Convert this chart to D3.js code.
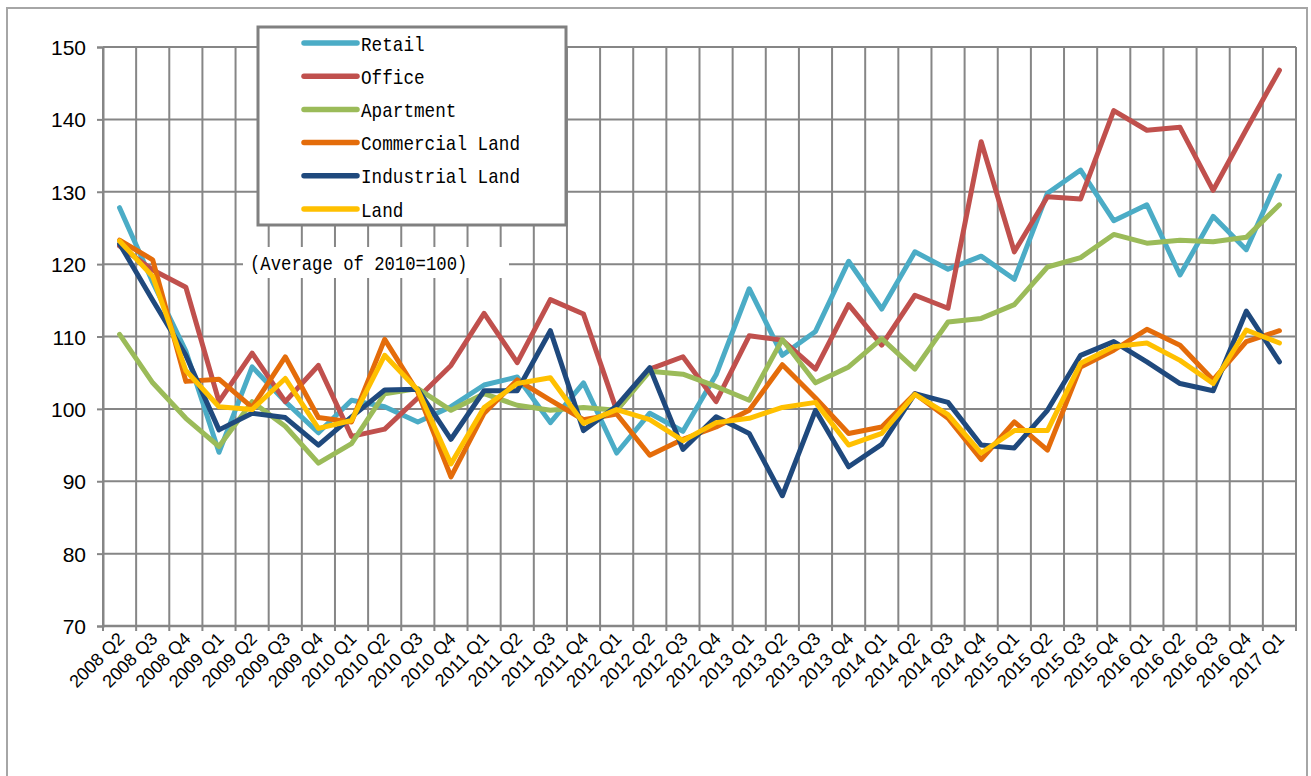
<!DOCTYPE html>
<html><head><meta charset="utf-8">
<script src="https://cdnjs.cloudflare.com/ajax/libs/d3/7.8.5/d3.min.js"></script>
<style>html,body{margin:0;padding:0;background:#fff;}svg{display:block;}</style>
</head><body>
<script>
const categories = ["2008 Q2","2008 Q3","2008 Q4","2009 Q1","2009 Q2","2009 Q3","2009 Q4","2010 Q1","2010 Q2","2010 Q3","2010 Q4","2011 Q1","2011 Q2","2011 Q3","2011 Q4","2012 Q1","2012 Q2","2012 Q3","2012 Q4","2013 Q1","2013 Q2","2013 Q3","2013 Q4","2014 Q1","2014 Q2","2014 Q3","2014 Q4","2015 Q1","2015 Q2","2015 Q3","2015 Q4","2016 Q1","2016 Q2","2016 Q3","2016 Q4","2017 Q1"];
const retail = [127.8,117.5,108.0,94.0,105.8,101.0,96.7,101.2,100.3,98.2,100.3,103.3,104.4,98.1,103.6,93.9,99.4,96.9,104.7,116.6,107.4,110.7,120.4,113.8,121.7,119.3,121.1,117.9,129.8,133.0,126.0,128.2,118.5,126.6,122.0,132.2];
const office = [122.5,119.2,116.8,101.0,107.7,101.0,106.0,96.2,97.2,101.5,106.0,113.2,106.4,115.1,113.1,99.8,105.5,107.2,101.0,110.1,109.5,105.5,114.4,108.8,115.7,113.9,136.9,121.7,129.3,129.0,141.2,138.5,138.9,130.2,138.6,146.8];
const apartment = [110.3,103.6,98.7,94.8,101.0,97.6,92.5,95.2,102.1,102.8,99.8,102.1,100.5,99.8,100.2,99.8,105.2,104.8,103.1,101.2,109.6,103.6,105.8,109.7,105.5,112.0,112.5,114.4,119.6,120.9,124.1,122.9,123.3,123.1,123.7,128.2];
const commercialLand = [123.3,120.6,103.8,104.1,100.2,107.2,98.8,98.2,109.6,102.3,90.6,99.4,104.0,101.2,98.5,99.3,93.6,95.8,97.5,99.8,106.1,101.5,96.6,97.5,102.1,98.7,93.0,98.2,94.3,105.8,108.1,111.0,108.8,104.0,109.3,110.8];
const industrialLand = [122.8,115.0,107.4,97.1,99.4,98.8,95.0,98.9,102.6,102.7,95.8,102.5,102.5,110.8,97.0,100.4,105.7,94.4,98.9,96.6,88.0,99.8,92.0,95.1,102.1,100.9,95.0,94.6,99.8,107.4,109.3,106.5,103.5,102.5,113.5,106.5];
const land = [123.2,118.3,105.3,100.3,99.9,104.2,97.3,98.4,107.4,102.6,92.4,100.2,103.5,104.3,98.0,99.9,98.5,95.6,98.1,98.7,100.2,100.9,95.0,96.6,102.0,99.2,93.9,97.0,97.0,106.3,108.6,109.1,106.7,103.5,110.9,109.1];
const seriesNames = ["Retail","Office","Apartment","Commercial Land","Industrial Land","Land"];
const seriesColors = ["#4BACC6","#C0504D","#9BBB59","#E46C0A","#1F497D","#FFC000"];
const yTicks = [70,80,90,100,110,120,130,140,150];
const note = "(Average of 2010=100)";

const seriesData = [retail, office, apartment, commercialLand, industrialLand, land];

(function(){
const W = 1311, H = 776;
const svg = d3.select("body").append("svg").attr("width", W).attr("height", H);

svg.append("rect").attr("x",7).attr("y",8).attr("width",1300).attr("height",820)
  .attr("fill","#fff").attr("stroke","#A6A6A6").attr("stroke-width",2);

const pL = 103, pR = 1296, pT = 47, pB = 626;
const x = d3.scaleBand().domain(categories).range([pL, pR]).padding(0);
const bw = x.bandwidth();
const xc = c => x(c) + bw/2;
const y = d3.scaleLinear().domain([70,150]).range([pB, pT]);

const gridColor = "#868686";
const g = svg.append("g");

g.selectAll(".hg").data(yTicks).join("line")
  .attr("x1", pL).attr("x2", pR)
  .attr("y1", d=>y(d)).attr("y2", d=>y(d))
  .attr("stroke", gridColor).attr("stroke-width", 2);
const bounds = categories.map(c => x(c)).concat([pR]);
g.selectAll(".vg").data(bounds).join("line")
  .attr("x1", d=>d).attr("x2", d=>d)
  .attr("y1", pT).attr("y2", pB+5)
  .attr("stroke", gridColor).attr("stroke-width", 2);

const yAxis = d3.axisLeft(y).tickValues(yTicks).tickSize(6).tickPadding(11);
const ya = svg.append("g").attr("transform", `translate(${pL},0)`).call(yAxis);
ya.select(".domain").attr("stroke", gridColor).attr("stroke-width", 2);
ya.selectAll(".tick line").attr("stroke", gridColor).attr("stroke-width", 2);
ya.selectAll(".tick text").attr("font-family","'Liberation Sans Narrow','Arial Narrow','Liberation Sans',sans-serif")
  .attr("font-size", 21).attr("fill","#000").attr("dy","0.36em");

svg.append("line").attr("x1",pL).attr("x2",pR).attr("y1",pB).attr("y2",pB)
  .attr("stroke", gridColor).attr("stroke-width", 2.5);

svg.append("g").selectAll("text").data(categories).join("text")
  .attr("transform", d => `translate(${xc(d)+6},${pB+14}) rotate(-45)`)
  .attr("text-anchor","end")
  .attr("font-family","'Liberation Sans Narrow','Arial Narrow','Liberation Sans',sans-serif")
  .attr("font-size", 18).attr("fill","#000")
  .text(d=>d);

const noteG = svg.append("g");
noteG.append("rect").attr("x",243).attr("y",247).attr("width",266).attr("height",31).attr("fill","#fff");
noteG.append("text").attr("x",250).attr("y",262).attr("dy","0.36em")
  .attr("font-family","'Liberation Mono','DejaVu Sans Mono',monospace").attr("font-size",21)
  .attr("textLength", note.length*10.35).attr("lengthAdjust","spacingAndGlyphs")
  .attr("fill","#000").text(note);

const line = d3.line().x((d,i)=>xc(categories[i])).y(d=>y(d));
svg.append("g").selectAll("path").data(seriesData).join("path")
  .attr("d", d=>line(d)).attr("fill","none")
  .attr("stroke",(d,i)=>seriesColors[i]).attr("stroke-width",5)
  .attr("stroke-linejoin","round").attr("stroke-linecap","round");

const lg = svg.append("g");
lg.append("rect").attr("x",258).attr("y",27).attr("width",308).attr("height",198)
  .attr("fill","#fff").attr("stroke","#808080").attr("stroke-width",3);
const ly = d3.scalePoint().domain(seriesNames).range([43,209]);
seriesNames.forEach((n,i)=>{
  lg.append("line").attr("x1",304).attr("x2",357).attr("y1",ly(n)).attr("y2",ly(n))
    .attr("stroke",seriesColors[i]).attr("stroke-width",5.5).attr("stroke-linecap","round");
  lg.append("text").attr("x",361).attr("y",ly(n)).attr("dy","0.36em")
    .attr("font-family","'Liberation Mono','DejaVu Sans Mono',monospace").attr("font-size",21)
    .attr("textLength", n.length*10.6).attr("lengthAdjust","spacingAndGlyphs")
    .attr("fill","#000").text(n);
});
})();
</script>
</body></html>
